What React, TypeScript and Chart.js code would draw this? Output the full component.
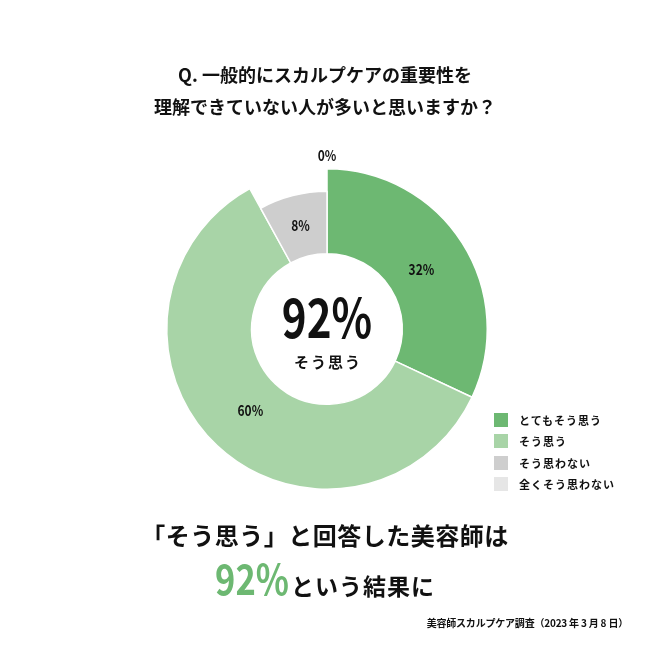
import React, { useEffect, useRef } from "react";
import { Chart, registerables } from "chart.js";

Chart.register(...registerables);

const questionLines = ["Q. 一般的にスカルプケアの重要性を", "理解できていない人が多いと思いますか？"];
const categories = ["とてもそう思う", "そう思う", "そう思わない", "全くそう思わない"];
const values = [32, 60, 8, 0];
const colors = ["#6db872", "#a8d4a7", "#cecece", "#e6e6e6"];
const radiusScale = [1, 1, 0.86, 1];
const centerLabel = "そう思う";
const headline = "「そう思う」と回答した美容師は";
const resultSuffix = "という結果に";
const footnote = "美容師スカルプケア調査（2023 年 3 月 8 日）";

const FONT = '"Noto Sans CJK JP", "Noto Sans", sans-serif';
const agreeTotal = values[0] + values[1];

function condensedText(ctx: CanvasRenderingContext2D, text: string, x: number, y: number, sx: number) {
  ctx.save();
  ctx.translate(x, y);
  ctx.scale(sx, 1);
  ctx.fillText(text, 0, 0);
  ctx.restore();
}

const arcPlugin = {
  id: "arcTweaks",
  afterDatasetsUpdate(chart: any) {
    const meta = chart.getDatasetMeta(0);
    meta.data.forEach((arc: any, i: number) => {
      arc.outerRadius = arc.outerRadius * radiusScale[i];
    });
  },
  afterDatasetsDraw(chart: any) {
    const ctx = chart.ctx;
    const meta = chart.getDatasetMeta(0);
    ctx.save();
    ctx.fillStyle = "#111";
    ctx.textAlign = "center";
    ctx.textBaseline = "middle";
    ctx.font = `600 15px ${FONT}`;
    meta.data.forEach((arc: any, i: number) => {
      const label = `${values[i]}%`;
      if (values[i] > 0) {
        const p = arc.getCenterPoint();
        const k = i === 2 ? 1 : 0.95;
        condensedText(ctx, label, arc.x + (p.x - arc.x) * k, arc.y + (p.y - arc.y) * k, 0.8);
      } else {
        const a = arc.startAngle;
        const r = arc.outerRadius + 13;
        condensedText(ctx, label, arc.x + Math.cos(a) * r, arc.y + Math.sin(a) * r, 0.8);
      }
    });
    const c = meta.data[0];
    ctx.font = `600 54px ${FONT}`;
    condensedText(ctx, `${agreeTotal}%`, c.x, c.y - 12, 0.78);
    ctx.font = `bold 15px ${FONT}`;
    (ctx as any).letterSpacing = "2px";
    ctx.fillText(centerLabel, c.x + 1, c.y + 33);
    ctx.restore();
  },
};

export default function App() {
  const ref = useRef<HTMLCanvasElement | null>(null);
  useEffect(() => {
    document.body.style.margin = "0";
    const chart = new Chart(ref.current!, {
      type: "doughnut",
      data: {
        labels: categories,
        datasets: [
          {
            data: values,
            backgroundColor: colors,
            borderColor: "#ffffff",
            borderWidth: 1.5,
          },
        ],
      },
      options: {
        animation: false,
        responsive: true,
        maintainAspectRatio: false,
        events: [],
        cutout: "47%",
        rotation: 0,
        layout: { padding: { left: 166, right: 162, top: 168, bottom: 160 } },
        plugins: { legend: { display: false }, tooltip: { enabled: false } },
      },
      plugins: [arcPlugin],
    });
    return () => chart.destroy();
  }, []);

  return (
    <div style={{ position: "absolute", left: 0, top: 0, width: 650, height: 650, background: "#fff", fontFamily: FONT, color: "#111" }}>
      <canvas ref={ref} style={{ position: "absolute", left: 0, top: 0 }} />
      <div style={{ position: "absolute", left: 0, top: 58, width: 650, textAlign: "center", fontWeight: 700, fontSize: 18, lineHeight: "32px" }}>
        {questionLines.map((l) => (
          <div key={l}>{l}</div>
        ))}
      </div>
      <div style={{ position: "absolute", left: 494, top: 409 }}>
        {categories.map((c, i) => (
          <div key={c} style={{ display: "flex", alignItems: "center", height: 21.5 }}>
            <div style={{ width: 14, height: 14, background: colors[i], marginRight: 11 }} />
            <div style={{ fontSize: 11, fontWeight: 700, letterSpacing: 1 }}>{c}</div>
          </div>
        ))}
      </div>
      <div style={{ position: "absolute", left: 0, top: 516, width: 650, textAlign: "center", fontWeight: 700, fontSize: 24, letterSpacing: 0.5, lineHeight: "38px" }}>
        {headline}
      </div>
      <div style={{ position: "absolute", left: 0, top: 552, width: 650, display: "flex", justifyContent: "center", alignItems: "baseline", fontWeight: 700, lineHeight: "50px", whiteSpace: "nowrap" }}>
        <span style={{ display: "inline-block", color: "#6db872", fontWeight: 600, fontSize: 42, transform: "scaleX(0.82)", margin: "0 -6px 0 -8px" }}>{agreeTotal}%</span>
        <span style={{ fontSize: 23, letterSpacing: 1 }}>{resultSuffix}</span>
      </div>
      <div style={{ position: "absolute", right: 22, top: 615, fontWeight: 700, fontSize: 10, letterSpacing: -0.2 }}>{footnote}</div>
    </div>
  );
}
